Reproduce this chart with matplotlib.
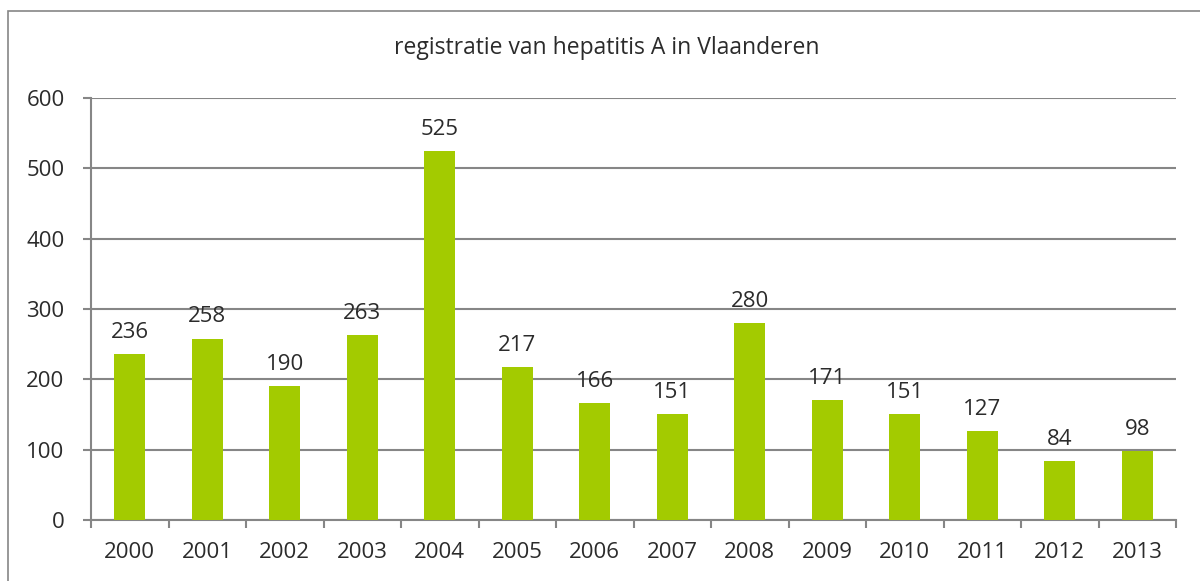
import numpy as np
import matplotlib.pyplot as plt
from matplotlib.patches import Rectangle

years = ['2000', '2001', '2002', '2003', '2004', '2005', '2006',
         '2007', '2008', '2009', '2010', '2011', '2012', '2013']
cases = [236, 258, 190, 263, 525, 217, 166, 151, 280, 171, 151, 127, 84, 98]

plt.rcParams['font.family'] = ['Open Sans', 'DejaVu Sans']
W, H = 1200, 581
fig = plt.figure(figsize=(W / 100, H / 100), dpi=100)
ax = fig.add_axes([91 / W, 1 - 520 / H, (1176 - 91) / W, (520 - 98) / H])

grey = '#868686'
green = '#a3cb00'
txt = '#2b2b2b'
fs = 16
x = np.arange(len(years))
bars = ax.bar(x, cases, width=0.4, color=green, zorder=3)
for xi, v in zip(x, cases):
    ax.annotate(str(v), (xi, v), xytext=(0, 8), textcoords='offset points',
                ha='center', va='bottom', fontsize=fs, color=txt)

ax.set_xlim(-0.5, len(years) - 0.5)
ax.set_ylim(0, 600)
ax.set_yticks(range(0, 601, 100))
ax.yaxis.grid(True, color=grey, linewidth=1.5, zorder=0)
ax.set_xticks(np.arange(-0.5, len(years), 1))
ax.set_xticklabels([])
ax.set_xticks(x, minor=True)
ax.set_xticklabels(years, minor=True)
ax.tick_params(axis='x', which='major', length=6, width=1.5, color=grey)
ax.tick_params(axis='x', which='minor', length=0, pad=16, labelsize=fs,
               labelcolor=txt)
ax.tick_params(axis='y', length=6, width=1.5, color=grey, labelsize=fs,
               labelcolor=txt, pad=13)
for s in ['top', 'right']:
    ax.spines[s].set_visible(False)
for s in ['left', 'bottom']:
    ax.spines[s].set_color(grey)
    ax.spines[s].set_linewidth(1.5)

fig.text(607 / W, 1 - 48 / H, 'registratie van hepatitis A in Vlaanderen',
         ha='center', va='center', fontsize=16.5, color=txt)

fig.patches.append(Rectangle((8 / W, -0.1), 1.2, 1 - 11 / H + 0.1,
                             transform=fig.transFigure, fill=False,
                             edgecolor=grey, linewidth=1.2))

fig.savefig('out.png', dpi=100)
